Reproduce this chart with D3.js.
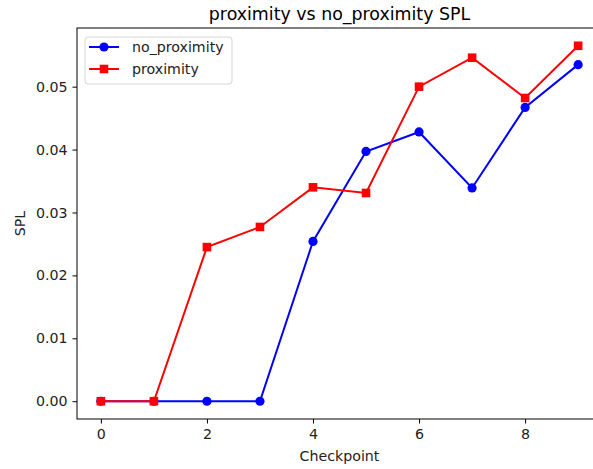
<!DOCTYPE html>
<html>
<head>
<meta charset="utf-8">
<script src="https://cdn.jsdelivr.net/npm/d3@7"></script>
<style>
  body { margin: 0; background: #fff; }
  svg { display: block; font-family: "DejaVu Sans", sans-serif; }
</style>
</head>
<body>
<div id="chart"></div>
<script>
const checkpoints = [0, 1, 2, 3, 4, 5, 6, 7, 8, 9];
const noProximity = [0, 0, 0, 0, 0.0254, 0.0397, 0.0428, 0.0339, 0.0467, 0.0535];
const proximity = [0, 0, 0.0245, 0.0277, 0.0340, 0.0331, 0.0500, 0.0546, 0.0482, 0.0565];
const xTicks = [0, 2, 4, 6, 8];
const yTicks = [0, 0.01, 0.02, 0.03, 0.04, 0.05];

const W = 593, H = 469;
const margin = { top: 28, right: -9, bottom: 50, left: 77 },
  width = W - margin.left - margin.right,
  height = H - margin.top - margin.bottom;
const fs = 14.2;

const svg = d3.select("#chart").append("svg")
  .attr("width", W).attr("height", H);

const g = svg.append("g")
  .attr("transform", "translate(" + margin.left + "," + margin.top + ")");

const x = d3.scaleLinear().domain([-0.45, 9.45]).range([0, width]);
const yMax = d3.max(proximity.concat(noProximity));
const pad = yMax * 0.05;
const y = d3.scaleLinear().domain([-pad, yMax + pad]).range([height, 0]);

// axes
const xAxis = g.append("g")
  .attr("transform", "translate(0," + height + ")")
  .call(d3.axisBottom(x).tickValues(xTicks).tickFormat(d3.format("d")).tickSize(4.5).tickPadding(5));
const yAxis = g.append("g")
  .call(d3.axisLeft(y).tickValues(yTicks).tickFormat(d3.format(".2f")).tickSize(4.5).tickPadding(5));
[xAxis, yAxis].forEach(function (a) {
  a.select(".domain").remove();
  a.selectAll("text").attr("font-size", fs).attr("fill", "#222").attr("font-family", "DejaVu Sans");
  a.selectAll("line").attr("stroke", "#000").attr("stroke-width", 1);
});

// frame
g.append("rect")
  .attr("x", 0).attr("y", 0).attr("width", width).attr("height", height)
  .attr("fill", "none").attr("stroke", "#000").attr("stroke-width", 1);

const series = [
  { name: "no_proximity", values: noProximity, color: "blue", marker: "circle" },
  { name: "proximity", values: proximity, color: "red", marker: "square" }
];

const line = d3.line().x((d, i) => x(checkpoints[i])).y(d => y(d));

function drawMarker(sel, s, cx, cy) {
  if (s.marker === "circle") {
    sel.append("circle").attr("cx", cx).attr("cy", cy).attr("r", 4.6).attr("fill", s.color);
  } else {
    sel.append("rect").attr("x", cx - 4.3).attr("y", cy - 4.3)
      .attr("width", 8.6).attr("height", 8.6).attr("fill", s.color);
  }
}

series.forEach(function (s) {
  const sg = g.append("g");
  sg.append("path").datum(s.values)
    .attr("d", line).attr("fill", "none")
    .attr("stroke", s.color).attr("stroke-width", 2);
  s.values.forEach(function (v, i) {
    drawMarker(sg, s, x(checkpoints[i]), y(v));
  });
});

// labels
const cx = margin.left + width / 2;
svg.append("text")
  .attr("x", cx).attr("y", 20)
  .attr("text-anchor", "middle").attr("font-size", 17.4).attr("fill", "#000")
  .text("proximity vs no_proximity SPL");
svg.append("text")
  .attr("x", cx).attr("y", 461)
  .attr("text-anchor", "middle").attr("font-size", fs).attr("fill", "#222")
  .text("Checkpoint");
svg.append("text")
  .attr("transform", "translate(25," + (margin.top + height / 2) + ") rotate(-90)")
  .attr("text-anchor", "middle").attr("font-size", fs).attr("fill", "#222")
  .text("SPL");

// legend
const leg = svg.append("g").attr("transform", "translate(85,37)");
leg.append("rect").attr("width", 147).attr("height", 47).attr("rx", 3)
  .attr("fill", "#fff").attr("fill-opacity", 0.8)
  .attr("stroke", "#d6d6d6").attr("stroke-width", 1);
series.forEach(function (s, i) {
  const cy = 10 + i * 22;
  leg.append("line").attr("x1", 4).attr("x2", 34).attr("y1", cy).attr("y2", cy)
    .attr("stroke", s.color).attr("stroke-width", 2);
  drawMarker(leg, s, 19, cy);
  leg.append("text").attr("x", 47).attr("y", cy + 5)
    .attr("font-size", fs).attr("fill", "#222").text(s.name);
});
</script>
</body>
</html>
